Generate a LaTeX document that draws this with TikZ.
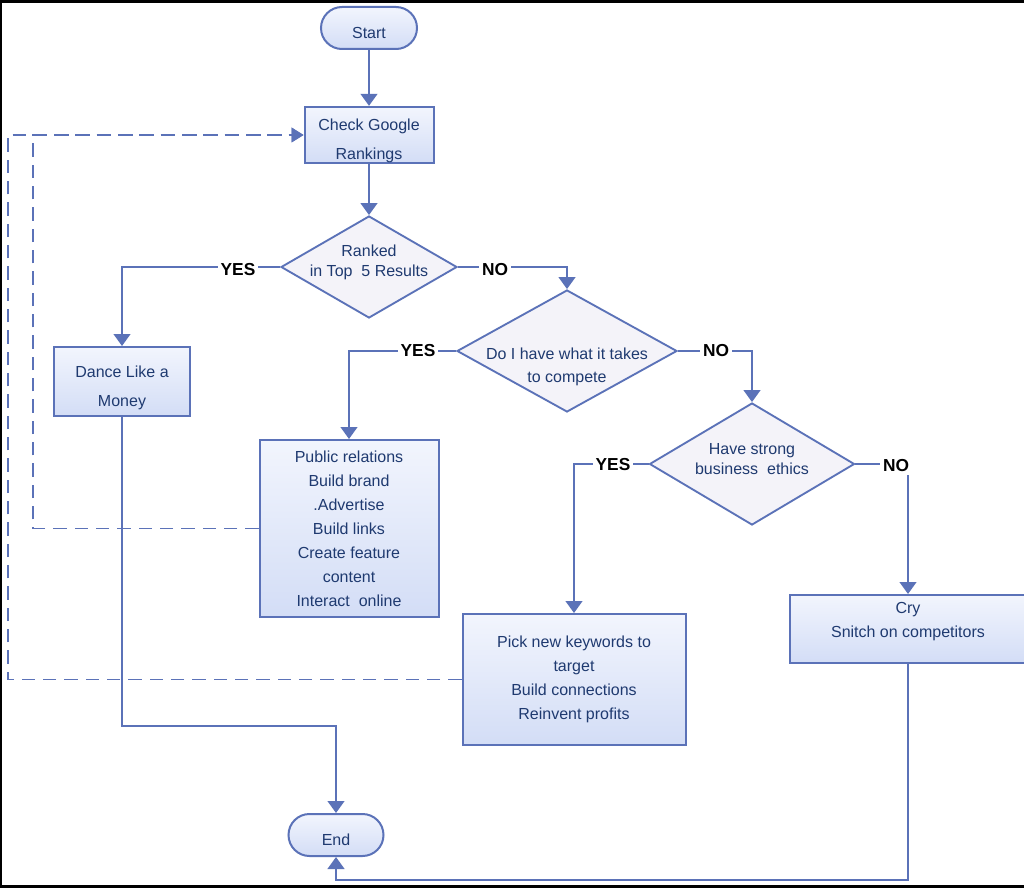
\documentclass[tikz,border=0pt]{standalone}
\usepackage{fontspec}
\setmainfont{Liberation Sans}
\usepackage{tikz}
\usetikzlibrary{shapes.geometric,arrows.meta}

\definecolor{edgeblue}{HTML}{5B72B8}
\definecolor{inkblue}{HTML}{1F3A70}
\definecolor{boxtop}{HTML}{F2F5FD}
\definecolor{boxbot}{HTML}{D3DDF6}
\definecolor{dfill}{HTML}{F4F3F9}

\begin{document}
\begin{tikzpicture}[x=0.75pt, y=-0.75pt,
  every node/.style={text=inkblue, font=\fontsize{12}{18}\selectfont, align=center, inner sep=0pt},
  box/.style={rectangle, draw=edgeblue, line width=1.5pt, top color=boxtop, bottom color=boxbot},
  term/.style={box, rounded corners=15.75pt, minimum width=72pt, minimum height=31.5pt, text height=16pt},
  decision/.style={diamond, draw=edgeblue, line width=1.4pt, fill=dfill},
  flow/.style={draw=edgeblue, line width=1.7pt, -{Triangle[width=12.5pt,length=9pt]}},
  loop/.style={draw=edgeblue, line width=1pt, dash pattern=on 10pt off 6pt, -{Triangle[width=11pt,length=9pt]}},
  flag/.style={fill=white, text=black, font=\bfseries\fontsize{13}{13}\selectfont, inner sep=2pt}]
\useasboundingbox (0,0) rectangle (1024,888);
\fill[black] (0,0) rectangle (1024,888);
\fill[white] (2,3) rectangle (1024,885);

\node[term] (start) at (369,28) {Start};
\node[box, minimum width=96.75pt, minimum height=42pt, text height=39.75pt, font=\fontsize{12}{21.75}\selectfont] (check) at (369,135) {Check Google\\Rankings};
\node[decision, minimum width=132pt, minimum height=76.5pt,
  label={[yshift=3.75pt, font=\fontsize{12}{15}\selectfont]center:Ranked\\in Top~~5 Results}] (rank) at (369,267) {};
\node[box, minimum width=102pt, minimum height=51.75pt, text height=39.75pt, font=\fontsize{12}{21.75}\selectfont] (dance) at (122,381.5) {Dance Like a\\Money};
\node[decision, minimum width=165pt, minimum height=91.5pt,
  label={[yshift=-12pt, font=\fontsize{12}{17}\selectfont]center:Do I have what it takes\\to compete}] (compete) at (567,351) {};
\node[box, minimum width=134.25pt, minimum height=132.75pt] (promo) at (349,528.5) {Public relations\\Build brand\\.Advertise\\Build links\\Create feature\\content\\Interact~ online};
\node[decision, minimum width=153.75pt, minimum height=91.5pt,
  label={[yshift=3.4pt, font=\fontsize{12}{15}\selectfont]center:Have strong\\business~ ethics}] (ethics) at (752,464) {};
\node[box, minimum width=167.25pt, minimum height=98.25pt] (pick) at (574,679.5) {Pick new keywords to\\target\\Build connections\\Reinvent profits};
\node[box, minimum width=177pt, minimum height=51pt] (cry) at (908,629) {Cry\\Snitch on competitors\\[-4.5pt]};
\node[term, minimum width=71.25pt] (stop) at (336,835) {End};

\coordinate (joinA) at (336,726);
\coordinate (joinB) at (336,880);
\coordinate (loopA) at (33,135);
\coordinate (loopB) at (8,135);

% main flow
\draw[flow] (start) -- (check);
\draw[flow] (check) -- (rank);
\draw[flow] (rank.west) -| (dance.north);
\draw[flow] (rank.east) -| (compete.north);
\draw[flow] (compete.west) -| (promo.north);
\draw[flow] (compete.east) -| (ethics.north);
\draw[flow] (ethics.west) -| (pick.north);
\draw[flow] (ethics.east) -| (cry.north);
\draw[flow] (dance.south) |- (joinA) -- (stop.north);
\draw[flow] (cry.south) |- (joinB) -- (stop.south);

% back to the rankings
\draw[loop] (promo.west) -| (loopA) -- (check.west);
\draw[loop] (pick.west) -| (loopB) -- (check.west);

\node[flag] (yesA) at (238,270) {YES};
\node[flag] (noA) at (495,270) {NO};
\node[flag] (yesB) at (418,351) {YES};
\node[flag] (noB) at (716,351) {NO};
\node[flag] (yesC) at (613,465) {YES};
\node[flag] (noC) at (896,466) {NO};
\end{tikzpicture}
\end{document}
